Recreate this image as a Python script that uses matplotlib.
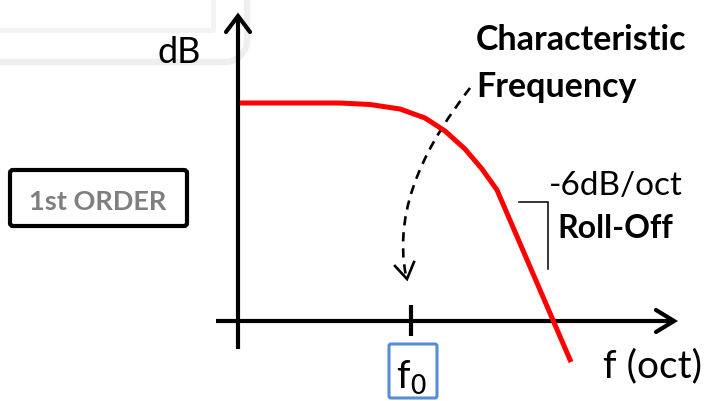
import matplotlib
matplotlib.use("Agg")
import matplotlib.pyplot as plt
import numpy as np
from matplotlib.patches import FancyBboxPatch, PathPatch
from matplotlib.path import Path

plt.rcParams['font.family'] = ['Lato', 'DejaVu Sans']

# ---- data (figure pixel coordinates: x to the right, y downward) ----
curve_x = [240, 340, 370, 400, 425, 445, 465, 482, 497, 571]
curve_y = [103, 103, 104.5, 109, 118, 131, 149, 169, 190, 362]

yaxis_x = 238
xaxis_y = 321
f0_x = 411

labels = {
    "ylabel": "dB",
    "xlabel": "f (oct)",
    "order": "1st ORDER",
    "char1": "Characteristic",
    "char2": "Frequency",
    "slope": "-6dB/oct",
    "roll": "Roll-Off",
}

fig = plt.figure(figsize=(7.07, 4.01), dpi=100)
ax = fig.add_axes([0, 0, 1, 1])
ax.set_xlim(0, 707)
ax.set_ylim(401, 0)
ax.axis("off")

# faint background frame (top-left)
ax.plot([0, 225], [62, 62], color="#eeeeee", lw=4.5, solid_capstyle="butt")
arc_t = np.linspace(np.pi / 2, 0, 20)
ax.plot(225 + 22 * np.cos(arc_t), 40 + 22 * np.sin(arc_t), color="#eeeeee", lw=4.5)
ax.plot([247, 247], [40, 0], color="#eeeeee", lw=4.5, solid_capstyle="butt")
ax.plot([0, 213, 213], [30, 30, 0], color="#f3f3f3", lw=3.5)

# axes
ax.plot([yaxis_x, yaxis_x], [349, 16], color="black", lw=3, solid_capstyle="butt")
ax.plot([226, yaxis_x, 250], [32, 16, 32], color="black", lw=3,
        solid_joinstyle="miter", solid_capstyle="round")
ax.plot([216, 674], [xaxis_y, xaxis_y], color="black", lw=3, solid_capstyle="butt")
ax.plot([656, 674, 656], [310, xaxis_y, 332], color="black", lw=3,
        solid_joinstyle="miter", solid_capstyle="round")
ax.plot([f0_x, f0_x], [305, 336], color="black", lw=3, solid_capstyle="butt")

# response curve
ax.plot(curve_x, curve_y, color="#ff0000", lw=3.6, solid_capstyle="butt",
        solid_joinstyle="round")

# dashed arrow
verts = [(470, 88), (430, 140), (392, 205), (406, 276)]
codes = [Path.MOVETO, Path.CURVE4, Path.CURVE4, Path.CURVE4]
ax.add_patch(PathPatch(Path(verts, codes), fill=False, lw=1.9, color="black",
                       linestyle=(0, (3.5, 2.6))))
ax.plot([395, 407, 414], [266, 279, 262], color="black", lw=1.9,
        solid_joinstyle="miter")

# roll-off bracket
ax.plot([519, 548, 548], [202, 202, 269], color="black", lw=1.1,
        solid_joinstyle="miter")

# texts
ax.text(179, 63, labels["ylabel"], fontsize=26, ha="center", va="baseline")
ax.text(603, 377, labels["xlabel"], fontsize=28, ha="left", va="baseline")
ax.text(476, 50, labels["char1"], fontsize=24.5, fontweight="bold", ha="left", va="baseline")
ax.text(476, 97, labels["char2"], fontsize=24.5, fontweight="bold", ha="left", va="baseline")
ax.text(549, 195, labels["slope"], fontsize=24, ha="left", va="baseline")
ax.text(557, 238, labels["roll"], fontsize=23, fontweight="bold", ha="left", va="baseline")

# 1st ORDER box
ax.add_patch(FancyBboxPatch((10, 170), 177, 56, boxstyle="round,pad=0,rounding_size=3",
                            fill=False, ec="black", lw=3))
ax.text(98, 210, labels["order"], fontsize=19.5, fontweight="bold", color="#7f7f7f",
        ha="center", va="baseline")

# f0 box
ax.add_patch(FancyBboxPatch((389, 344), 48, 54, boxstyle="round,pad=0,rounding_size=2",
                            fill=False, ec="#558ed5", lw=2.2))
ax.text(412, 388, r"f$_0$", fontsize=28, ha="center", va="baseline")

fig.savefig("out.png", dpi=100)
